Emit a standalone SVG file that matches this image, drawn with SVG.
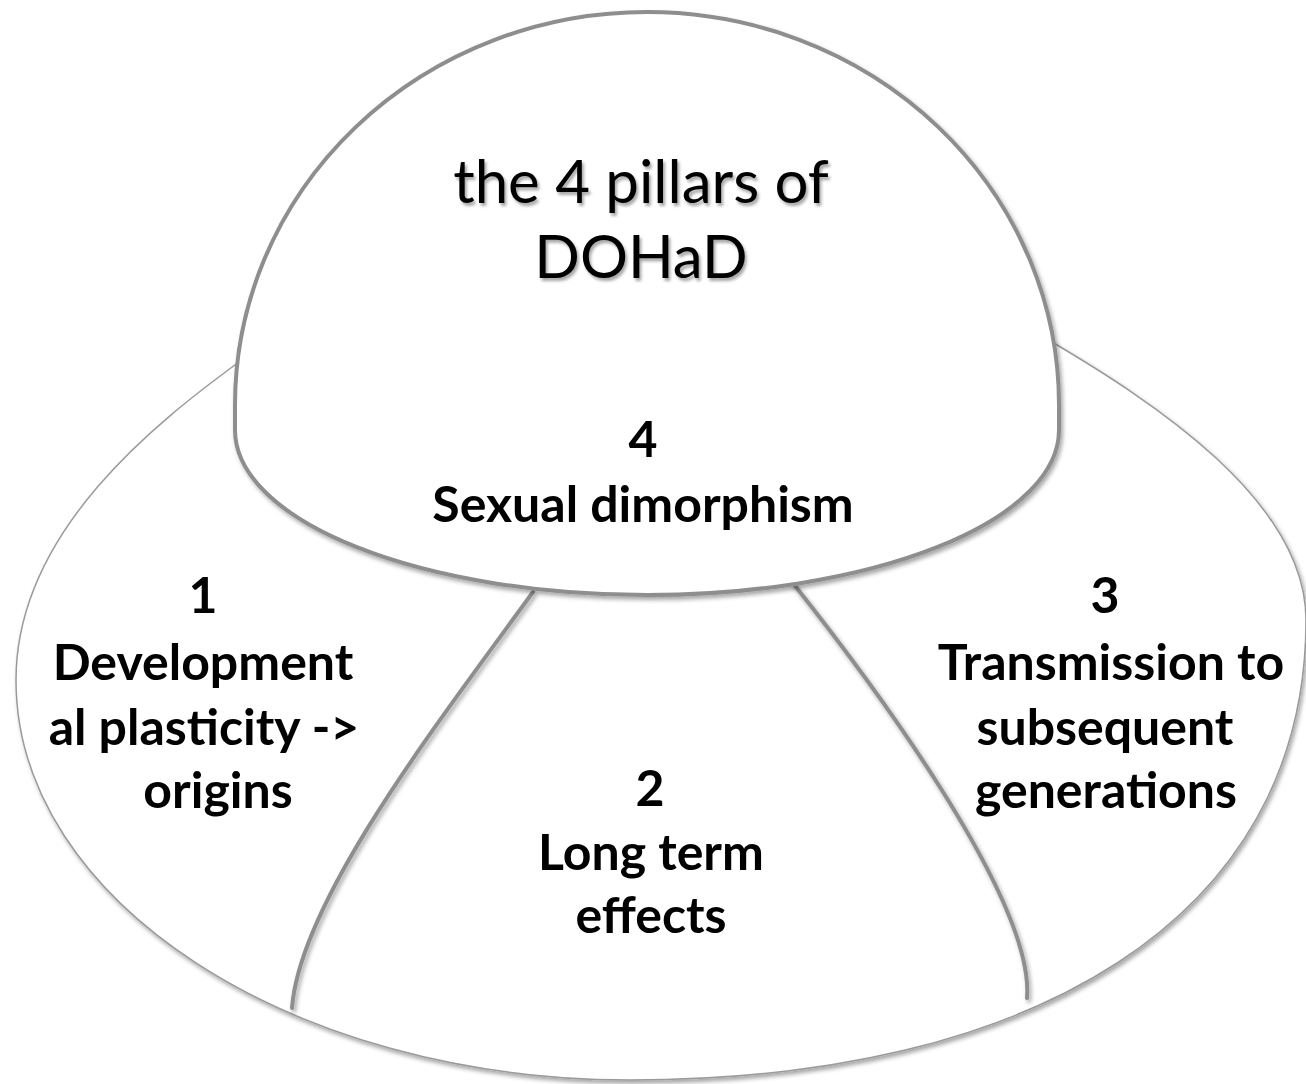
<svg xmlns="http://www.w3.org/2000/svg" width="1306" height="1084" viewBox="0 0 1306 1084">
  <defs>
    <filter id="shadow" x="-10%" y="-10%" width="120%" height="120%">
      <feDropShadow dx="2" dy="3" stdDeviation="2" flood-color="#000" flood-opacity="0.35"/>
    </filter>
    <filter id="tshadow" x="-10%" y="-20%" width="120%" height="140%">
      <feDropShadow dx="2" dy="3" stdDeviation="1.5" flood-color="#000" flood-opacity="0.35"/>
    </filter>
  </defs>
  <style>
    .base { fill: #ffffff; stroke: #9a9a9a; stroke-width: 1.5; }
    .thick { fill: none; stroke: #8e8e8e; stroke-width: 4; stroke-linecap: round; }
    .dome { fill: #ffffff; stroke: #8e8e8e; stroke-width: 4; }
    .title { font-family: Lato, "Liberation Sans", sans-serif; font-size: 60px; fill: #000; text-anchor: middle; }
    .lbl { font-family: Lato, "Liberation Sans", sans-serif; font-weight: bold; font-size: 50px; fill: #000; text-anchor: middle; }
  </style>
  <rect width="1306" height="1084" fill="#ffffff"/>

  <g id="base">
    <path class="base" filter="url(#shadow)" d="M 239 362 C 160 420 16 530 16 680 C 16 901 291 1080 630 1080 C 1030 1080 1306 920 1306 620 C 1306 500 1150 400 1052 342 C 900 250 400 250 239 362 Z"/>
  </g>

  <g id="connectors">
    <path class="thick" filter="url(#shadow)" d="M 533 592 C 440 720 300 900 292 1008"/>
    <path class="thick" filter="url(#shadow)" d="M 792 582 C 870 680 1035 900 1027 998"/>
  </g>

  <g id="dome">
    <path class="dome" filter="url(#shadow)" d="M 235 430 L 235 405 A 412 393 0 0 1 1059 405 L 1059 430 A 412 165 0 0 1 235 430 Z"/>
    <text class="title" filter="url(#tshadow)" x="641" y="203">the 4 pillars of</text>
    <text class="title" filter="url(#tshadow)" x="641" y="278">DOHaD</text>
    <text class="lbl" x="643" y="457">4</text>
    <text class="lbl" x="643" y="522">Sexual dimorphism</text>
  </g>

  <g id="pillar1">
    <text class="lbl" x="203" y="613">1</text>
    <text class="lbl" x="203" y="680">Development</text>
    <text class="lbl" x="204" y="745">al plasticity -&gt;</text>
    <text class="lbl" x="218" y="808">origins</text>
  </g>

  <g id="pillar2">
    <text class="lbl" x="650" y="806">2</text>
    <text class="lbl" x="651" y="870">Long term</text>
    <text class="lbl" x="651" y="933">effects</text>
  </g>

  <g id="pillar3">
    <text class="lbl" x="1105" y="613">3</text>
    <text class="lbl" x="1111" y="680">Transmission to</text>
    <text class="lbl" x="1105" y="745">subsequent</text>
    <text class="lbl" x="1106" y="808">generations</text>
  </g>
</svg>
